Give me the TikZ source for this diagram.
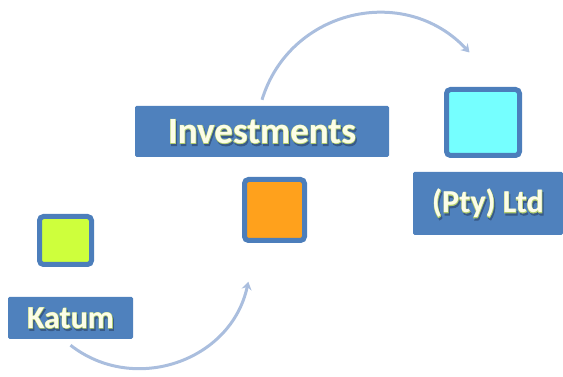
\documentclass[tikz,border=0pt]{standalone}
\usepackage{fontspec}
\setmainfont{Carlito}
\newfontface\glowface{Carlito Bold}[FakeBold=3]
\usetikzlibrary{arrows.meta, positioning}

\definecolor{boxblue}{RGB}{79,129,189}
\definecolor{edgeblue}{RGB}{76,126,187}
\definecolor{arrowblue}{RGB}{170,190,222}
\definecolor{limefill}{RGB}{206,255,60}
\definecolor{orangefill}{RGB}{255,161,28}
\definecolor{cyanfill}{RGB}{117,255,255}
\definecolor{creamtext}{RGB}{252,253,232}
\definecolor{glowgreen}{RGB}{176,204,110}
\definecolor{shadowblue}{RGB}{56,90,136}

% label with a green glow and a soft shadow
\newcommand{\glowtext}[1]{%
  \rlap{\smash{\hspace*{1.2pt}\raisebox{-2.2pt}{\textcolor{shadowblue}{\glowface #1}}}}%
  \rlap{\textcolor{glowgreen}{\glowface #1}}%
  \textcolor{creamtext}{#1}}

\tikzset{
  labelbox/.style={fill=boxblue, rounded corners=1.5pt, inner sep=0pt, font=\fontsize{32}{36}\selectfont\bfseries},
  colorsquare/.style={draw=edgeblue, line width=5pt, rounded corners=4pt, inner sep=0pt},
  flowarrow/.style={draw=arrowblue, line width=3pt, -{Stealth[length=8pt, width=10pt]}}
}

\begin{document}
\begin{tikzpicture}[x=1pt, y=1pt]
	% Fix the canvas to the size of the reference
	\useasboundingbox (0,0) rectangle (563,377);

	% Draw the label boxes
	\node[labelbox, minimum width=125pt, minimum height=42pt] (katum) at (70.5,59) {\glowtext{Katum}};
	\node[labelbox, minimum width=254pt, minimum height=51pt, font=\fontsize{37}{40}\selectfont\bfseries] (invest) at (262,245.5) {\glowtext{Investments}};
	\node[labelbox, minimum width=150pt, minimum height=63pt] (pty) at (488,173.5) {\glowtext{(Pty) Ltd}};

	% Draw the coloured squares
	\node[colorsquare, fill=limefill, minimum width=52pt, minimum height=48pt] (lime) at (65.5,136.5) {};
	\node[colorsquare, fill=orangefill, minimum width=60pt, minimum height=61pt] (orange) at (274.5,167) {};
	\node[colorsquare, fill=cyanfill, minimum width=73pt, minimum height=66pt] (cyan) at (483,254.5) {};

	% Add the curved arrows
	\coordinate (lowtip) at (248.3,95.3);
	\coordinate (hightip) at (469.5,324.5);
	\draw[flowarrow] ([yshift=-6pt]katum.south) to[out=-38, in=258, looseness=1.1] (lowtip);
	\draw[flowarrow] ([yshift=6pt]invest.north) to[out=73, in=133, looseness=1.14] (hightip);

\end{tikzpicture}
\end{document}
